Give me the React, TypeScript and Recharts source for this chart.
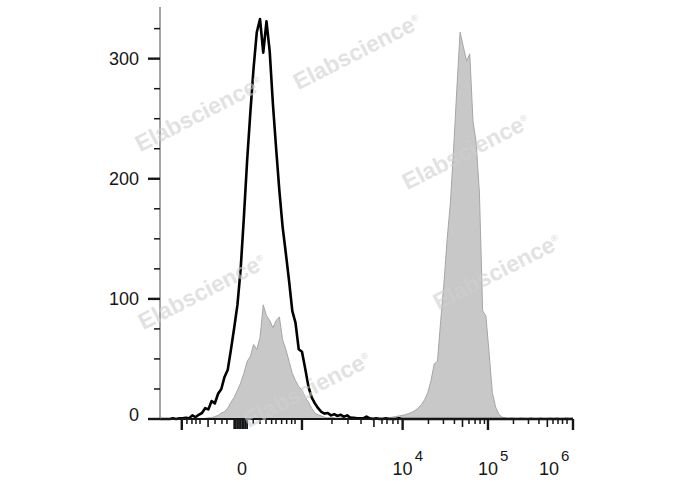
import { ComposedChart, Area, Line, XAxis, YAxis } from 'recharts';

// histogram bins on a 256-channel display scale, 2 channels per bin
const isotypeCounts = [
  0, 0, 0, 0, 0.5, 0, 0.5, 0.5, 1, 0.5,
  3, 1.5, 3.5, 5, 9, 8, 15, 13, 21, 25,
  35, 41, 58, 76, 95, 125, 168, 215, 255, 292,
  322, 333, 305, 331, 306, 262, 225, 190, 160, 138,
  115, 90, 80, 58, 56, 42, 27, 18, 13, 9,
  6, 4.5, 5, 3, 4, 2.5, 3.5, 2, 3, 1,
  1, 0.5, 0.5, 0.5, 2, 0.5, 0, 0.5, 0, 0,
  0.5, 0, 0, 0, 0.5, 0, 0, 0, 0, 0,
  0, 0, 0, 0, 0, 0, 0, 0, 0, 0,
  0, 0, 0, 0, 0, 0, 0, 0, 0, 0,
  0, 0, 0, 0, 0, 0, 0, 0, 0, 0,
  0, 0, 0, 0, 0, 0, 0, 0, 0, 0,
  0, 0, 0, 0, 0, 0, 0, 0, 0,
];

const stainedCounts = [
  0, 0, 0, 0, 0, 0, 0, 0, 0, 0,
  0.5, 0, 0.5, 0.5, 0.5, 1, 1, 2, 3, 5,
  6, 9, 14, 18, 24, 30, 38, 48, 52, 62,
  58, 68, 95, 86, 82, 76, 82, 85, 66, 58,
  48, 38, 32, 27, 24, 18, 14, 9, 5, 3.5,
  2.5, 1.5, 1, 1.5, 1, 0.5, 1, 1.5, 0.5, 2,
  1, 0.5, 1, 0.5, 1, 0.5, 1, 0.5, 1, 1,
  0.5, 1, 1.5, 2, 2.5, 3, 3.5, 4.5, 5.5, 7,
  9, 12, 16, 22, 32, 46, 48, 82, 113, 150,
  180, 225, 275, 322, 310, 298, 304, 248, 230, 188,
  90, 86, 55, 22, 10, 4, 1.5, 1, 0.5, 1,
  0.5, 0.5, 1, 0.5, 0.5, 1, 0.5, 0.5, 1, 0.5,
  0.5, 1, 0.5, 1, 0.5, 0.5, 1, 0.5, 1,
];

const channelStep = 2;

// x axis ticks, in display channels
const xMajorTicks = [13.5, 88, 150.4, 203.3, 256];
const xMediumTicks = [29.8, 132.6, 187.5, 240.1];
const xMinorTicks = [
  16.7, 19.8, 22.3, 24.8, 34.1, 38.4, 41.5,
  57.8, 62, 65.7, 69.2, 71.9, 75.4, 78.5, 81.6, 83.7,
  106.6, 116.5, 124.6, 137.6, 140.7, 144.4, 147.5,
  166.4, 175.7, 182.5, 191.5, 195.3, 198.4, 201.1,
  219.1, 228.4, 234.9, 243.6, 246.7, 249.5, 252.3,
];
const xZeroCluster = [46, 47, 48, 49, 50, 51, 52, 53, 54];
const xLabels = [
  { value: 50.8, base: '0', exp: '' },
  { value: 150.4, base: '10', exp: '4' },
  { value: 203.3, base: '10', exp: '5' },
  { value: 256, base: '10', exp: '6' },
];

const yTicks = [0, 25, 50, 75, 100, 125, 150, 175, 200, 225, 250, 275, 300, 325];
const yLabelled = [0, 100, 200, 300];

const watermarks = [
  { x: 199, y: 114 },
  { x: 357, y: 52 },
  { x: 466, y: 152 },
  { x: 202, y: 292 },
  { x: 497, y: 272 },
  { x: 307, y: 390 },
];

const data = isotypeCounts.map((v, i) => ({
  ch: i * channelStep,
  isotype: v,
  stained: stainedCounts[i],
}));

const allXTicks = Array.from(
  new Set([...xMajorTicks, ...xMediumTicks, ...xMinorTicks, ...xZeroCluster, ...xLabels.map((l) => l.value)])
).sort((a, b) => a - b);

const FONT = '"Liberation Sans", Arial, sans-serif';
const INK = '#161616';

function XTick({ x, y, payload }: { x: number; y: number; payload: { value: number } }) {
  const v = payload.value;
  const label = xLabels.find((l) => l.value === v);
  let len = 0;
  let w = 1.4;
  if (xMajorTicks.includes(v)) {
    len = 11;
    w = 2.4;
  } else if (xMediumTicks.includes(v)) {
    len = 8;
    w = 1.6;
  } else if (xMinorTicks.includes(v)) {
    len = 5;
    w = 1.5;
  } else if (xZeroCluster.includes(v)) {
    len = 10;
    w = 1.8;
  }
  const last = v === 256;
  const cx = last ? x - 24 : x;
  return (
    <g>
      {len > 0 && <line x1={x} x2={x} y1={y} y2={y + len} stroke={INK} strokeWidth={w} />}
      {label && (
        <g fontFamily={FONT} fill={INK}>
          <text x={cx} y={y + 56} fontSize={18} textAnchor="middle">
            {label.base}
          </text>
          {label.exp && (
            <text x={cx + 12} y={y + 42} fontSize={15} textAnchor="start">
              {label.exp}
            </text>
          )}
        </g>
      )}
    </g>
  );
}

function YTick({ x, y, payload }: { x: number; y: number; payload: { value: number } }) {
  const v = payload.value;
  const major = yLabelled.includes(v);
  return (
    <g>
      <line x1={x - (major ? 12 : 6)} x2={x} y1={y} y2={y} stroke={INK} strokeWidth={major ? 2.4 : 1.5} />
      {major && (
        <text x={x - 21} y={y} dy={v === 0 ? 2 : 6} textAnchor="end" fontSize={18} fontFamily={FONT} fill={INK}>
          {v}
        </text>
      )}
    </g>
  );
}

export default function App() {
  return (
    <div style={{ position: 'absolute', left: 0, top: 0, width: 688, height: 490, background: '#fff' }}>
      <ComposedChart width={688} height={490} data={data} margin={{ top: 7, right: 115, bottom: 0, left: 0 }}>
        <XAxis
          dataKey="ch"
          type="number"
          domain={[0, 256]}
          ticks={allXTicks}
          interval={0}
          height={71}
          tickSize={0}
          tickMargin={0}
          tickLine={false}
          axisLine={{ stroke: INK, strokeWidth: 2 }}
          tick={XTick as any}
        />
        <YAxis
          type="number"
          domain={[0, 343]}
          ticks={yTicks}
          interval={0}
          width={160}
          tickSize={0}
          tickMargin={0}
          tickLine={false}
          axisLine={{ stroke: '#666', strokeWidth: 1.2 }}
          tick={YTick as any}
        />
        <Area
          type="linear"
          dataKey="stained"
          stroke="#a6a6a6"
          strokeWidth={1}
          fill="#c8c8c8"
          fillOpacity={1}
          dot={false}
          activeDot={false}
          isAnimationActive={false}
        />
        <Line
          type="linear"
          dataKey="isotype"
          stroke="#000"
          strokeWidth={2.6}
          strokeLinejoin="round"
          dot={false}
          activeDot={false}
          isAnimationActive={false}
        />
      </ComposedChart>
      {watermarks.map((m, i) => (
        <div
          key={i}
          style={{
            position: 'absolute',
            left: m.x,
            top: m.y,
            transform: 'translate(-50%, -50%) rotate(-27deg)',
            fontFamily: FONT,
            fontWeight: 700,
            fontSize: 23,
            color: '#cfcfcf',
            opacity: 0.6,
            whiteSpace: 'nowrap',
            pointerEvents: 'none',
          }}
        >
          Elabscience<sup style={{ fontSize: 9 }}>®</sup>
        </div>
      ))}
    </div>
  );
}
